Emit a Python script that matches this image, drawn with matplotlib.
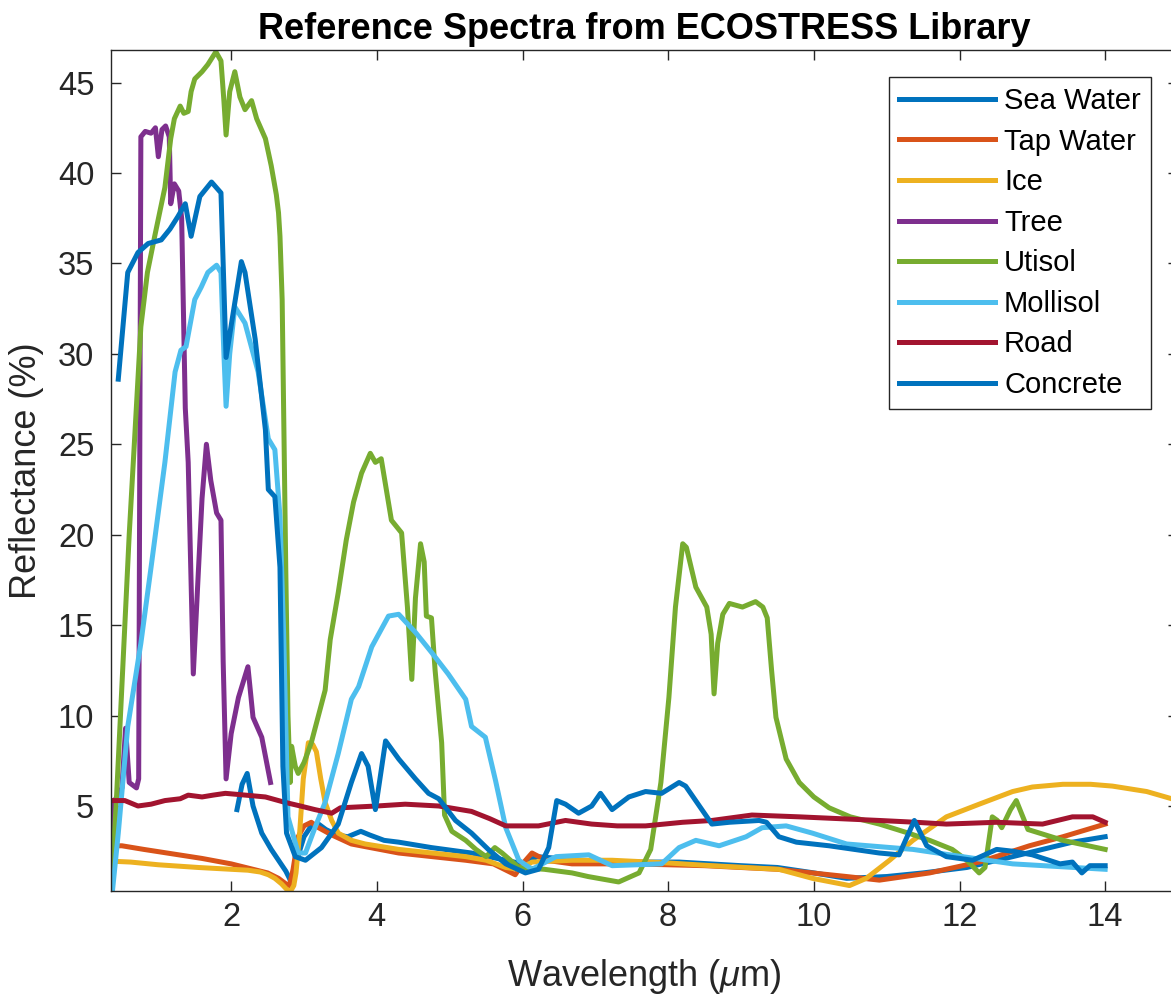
import matplotlib
matplotlib.use("Agg")
import matplotlib.pyplot as plt

plt.rcParams['font.family'] = ['Liberation Sans', 'DejaVu Sans']
plt.rcParams['mathtext.fontset'] = 'custom'
plt.rcParams['mathtext.rm'] = 'Liberation Sans'
plt.rcParams['mathtext.it'] = 'Liberation Sans:italic'

# spectra, wavelength in um, reflectance in %
sea_wl = [2.08, 2.15, 2.22, 2.3, 2.42, 2.55, 2.65, 2.75, 2.8, 2.83, 2.9, 3.0, 3.1, 3.2, 3.3, 3.45,
          3.6, 3.78, 3.9, 4.1, 4.3, 4.75, 5.3, 5.77, 6.0, 6.2, 6.8, 7.5, 8.15, 9.0, 9.5, 10.0,
          10.45, 11.0, 11.5, 12.1, 12.73, 13.55, 14.0]
sea_refl = [4.8, 6.2, 6.8, 5.0, 3.5, 2.6, 2.0, 1.4, 1.0, 0.7, 2.0, 3.3, 3.9, 4.0, 3.7, 3.4,
            3.3, 3.6, 3.4, 3.1, 3.0, 2.7, 2.4, 2.0, 1.8, 2.2, 2.0, 1.9, 1.9, 1.7, 1.6, 1.3,
            1.0, 1.1, 1.3, 1.6, 2.2, 3.0, 3.3]

tap_wl = [0.4, 0.5, 0.8, 1.2, 1.6, 2.0, 2.3, 2.5, 2.65, 2.75, 2.8, 2.85, 2.92, 3.0, 3.1, 3.2,
          3.38, 3.65, 4.3, 5.22, 5.6, 5.9, 6.0, 6.13, 6.32, 6.68, 7.5, 8.5, 9.5, 10.45, 10.9,
          11.59, 12.27, 12.96, 13.42, 14.0]
tap_refl = [2.8, 2.8, 2.6, 2.35, 2.1, 1.8, 1.5, 1.3, 1.0, 0.7, 0.6, 1.5, 3.3, 3.9, 4.1, 3.8,
            3.4, 2.9, 2.4, 2.0, 1.8, 1.2, 1.8, 2.4, 2.0, 1.8, 1.8, 1.7, 1.5, 1.1, 0.9,
            1.3, 1.9, 2.8, 3.3, 4.0]

ice_wl = [0.35, 0.62, 1.0, 1.55, 2.0, 2.23, 2.4, 2.51, 2.6, 2.69, 2.76, 2.81, 2.86, 2.89, 2.94,
          2.99, 3.06, 3.12, 3.17, 3.23, 3.29, 3.38, 3.47, 3.65, 3.84, 4.3, 5.22, 5.5, 5.77, 5.95,
          6.13, 6.68, 7.23, 8.0, 8.6, 9.52, 9.98, 10.49, 10.72, 11.04, 11.36, 11.82, 12.27, 12.73,
          13.0, 13.42, 13.8, 14.1, 14.57, 15.0]
ice_refl = [1.95, 1.9, 1.75, 1.6, 1.5, 1.45, 1.35, 1.2, 1.0, 0.7, 0.4, 0.25, 0.6, 1.3, 3.5,
            6.5, 8.5, 8.4, 8.0, 6.5, 5.2, 4.2, 3.5, 3.1, 2.9, 2.6, 2.2, 2.0, 1.6, 1.5,
            1.9, 2.0, 2.0, 1.85, 1.7, 1.5, 1.0, 0.6, 1.0, 2.0, 3.1, 4.4, 5.1, 5.8,
            6.05, 6.2, 6.2, 6.1, 5.8, 5.3]

tree_wl = [0.35, 0.4, 0.5, 0.55, 0.6, 0.7, 0.73, 0.76, 0.82, 0.9, 0.96, 1.0, 1.05, 1.1, 1.15,
           1.17, 1.22, 1.28, 1.32, 1.37, 1.41, 1.48, 1.55, 1.6, 1.66, 1.72, 1.8, 1.86, 1.89, 1.93,
           2.0, 2.1, 2.23, 2.3, 2.42, 2.54]
tree_refl = [3.7, 5.3, 6.0, 9.3, 6.3, 6.0, 6.5, 42.0, 42.3, 42.2, 42.5, 40.9, 42.4, 42.6, 42.0,
             38.3, 39.4, 39.0, 37.5, 27.0, 24.0, 12.3, 18.0, 22.0, 25.0, 23.0, 21.2, 20.8, 13.0, 6.5,
             9.0, 11.0, 12.7, 9.9, 8.8, 6.3]

utisol_wl = [0.35, 0.42, 0.48, 0.54, 0.6, 0.67, 0.76, 0.85, 0.95, 1.09, 1.17, 1.22, 1.3, 1.35,
             1.41, 1.45, 1.5, 1.6, 1.68, 1.79, 1.86, 1.9, 1.93, 1.98, 2.05, 2.12, 2.19, 2.28, 2.35,
             2.47, 2.55, 2.62, 2.65, 2.67, 2.7, 2.72, 2.75, 2.78, 2.81, 2.83, 2.88, 2.92, 3.0, 3.1,
             3.29, 3.36, 3.47, 3.58, 3.68, 3.79, 3.91, 3.98, 4.06, 4.2, 4.34, 4.42, 4.48, 4.53, 4.6,
             4.65, 4.68, 4.75, 4.8, 4.89, 4.93, 5.03, 5.22, 5.36, 5.5, 5.62, 5.72, 5.95, 6.3, 6.68,
             6.9, 7.32, 7.6, 7.76, 7.9, 8.01, 8.1, 8.2, 8.25, 8.38, 8.53, 8.59, 8.63, 8.68, 8.75,
             8.84, 9.02, 9.2, 9.3, 9.36, 9.42, 9.48, 9.62, 9.8, 10.0, 10.21, 10.5, 10.9, 11.3, 11.59,
             11.9, 12.1, 12.27, 12.35, 12.45, 12.52, 12.58, 12.7, 12.78, 12.86, 12.94, 13.42, 14.0]
utisol_refl = [0.4, 5.0, 10.0, 15.0, 20.0, 25.0, 31.5, 34.5, 36.5, 39.2, 41.9, 43.0, 43.7, 43.3,
               43.4, 44.5, 45.2, 45.6, 46.0, 46.7, 46.2, 44.0, 42.1, 44.5, 45.6, 44.2, 43.5, 44.0, 43.0,
               41.9, 40.4, 38.8, 37.8, 36.5, 33.0, 27.0, 18.0, 10.0, 6.3, 8.3, 7.2, 6.8, 7.4, 8.5,
               11.4, 14.2, 16.8, 19.7, 21.8, 23.4, 24.5, 24.0, 24.2, 20.8, 20.1, 16.0, 12.0, 16.5, 19.5,
               18.5, 15.5, 15.4, 12.5, 8.5, 4.5, 3.6, 3.1, 2.6, 2.2, 2.7, 2.4, 1.6, 1.5, 1.3,
               1.1, 0.8, 1.3, 2.6, 6.3, 11.0, 16.0, 19.5, 19.3, 17.1, 16.0, 14.5, 11.2, 14.0, 15.6,
               16.2, 16.0, 16.3, 16.0, 15.4, 12.5, 9.9, 7.6, 6.3, 5.5, 4.9, 4.4, 4.0, 3.5, 3.1,
               2.6, 2.0, 1.3, 1.6, 4.4, 4.2, 3.8, 4.8, 5.3, 4.5, 3.7, 3.1, 2.6]

mollisol_wl = [0.37, 0.45, 0.58, 0.76, 0.9, 1.09, 1.23, 1.31, 1.38, 1.5, 1.59, 1.68, 1.8, 1.86,
               1.9, 1.93, 1.98, 2.05, 2.19, 2.37, 2.51, 2.6, 2.67, 2.72, 2.78, 2.92, 3.02, 3.15, 3.29,
               3.47, 3.65, 3.75, 3.93, 4.16, 4.3, 4.53, 4.75, 4.98, 5.22, 5.3, 5.49, 5.63, 5.77, 5.95,
               6.13, 6.46, 6.91, 7.23, 7.91, 8.15, 8.38, 8.7, 9.07, 9.29, 9.62, 9.98, 10.45, 11.36,
               12.04, 12.73, 14.0]
mollisol_refl = [0.3, 3.5, 9.4, 14.0, 18.2, 24.0, 29.0, 30.2, 30.4, 33.0, 33.7, 34.5, 34.9, 34.5,
                 30.0, 27.1, 30.0, 32.6, 31.7, 29.0, 25.3, 24.7, 21.0, 14.6, 4.4, 2.4, 2.4, 3.8, 5.2,
                 7.9, 10.9, 11.6, 13.8, 15.5, 15.6, 14.6, 13.5, 12.3, 10.9, 9.4, 8.8, 6.4, 3.8, 2.0,
                 1.5, 2.2, 2.3, 1.7, 1.8, 2.7, 3.1, 2.8, 3.3, 3.8, 3.9, 3.5, 2.9, 2.6,
                 2.2, 1.8, 1.5]

road_wl = [0.35, 0.45, 0.54, 0.72, 0.9, 1.09, 1.3, 1.41, 1.6, 1.75, 1.92, 2.2, 2.47, 2.74, 2.95,
           3.15, 3.38, 3.5, 4.0, 4.39, 4.85, 5.3, 5.55, 5.77, 6.22, 6.59, 6.95, 7.3, 7.69, 8.2,
           8.6, 9.15, 9.8, 10.35, 10.9, 11.4, 11.82, 12.51, 13.14, 13.55, 13.83, 14.0]
road_refl = [5.3, 5.3, 5.3, 5.0, 5.1, 5.3, 5.4, 5.6, 5.5, 5.6, 5.7, 5.6, 5.5, 5.2, 5.0,
             4.8, 4.6, 4.9, 5.0, 5.1, 5.0, 4.7, 4.3, 3.9, 3.9, 4.2, 4.0, 3.9, 3.9, 4.1,
             4.2, 4.5, 4.4, 4.3, 4.2, 4.1, 4.0, 4.1, 4.0, 4.4, 4.4, 4.1]

concrete_wl = [0.45, 0.58, 0.72, 0.86, 1.04, 1.16, 1.27, 1.37, 1.45, 1.57, 1.73, 1.86, 1.93, 2.14,
               2.19, 2.33, 2.47, 2.51, 2.6, 2.67, 2.71, 2.76, 2.88, 3.02, 3.24, 3.47, 3.65, 3.79,
               3.88, 3.98, 4.12, 4.3, 4.53, 4.71, 4.85, 5.08, 5.3, 5.53, 5.77, 6.04, 6.22, 6.36,
               6.47, 6.59, 6.77, 6.95, 7.07, 7.23, 7.46, 7.69, 7.91, 8.15, 8.24, 8.6, 8.84, 9.25,
               9.35, 9.52, 9.76, 10.21, 10.9, 11.17, 11.38, 11.55, 11.82, 12.18, 12.51, 12.73, 13.0,
               13.38, 13.55, 13.68, 13.79, 14.0]
concrete_refl = [28.6, 34.5, 35.6, 36.1, 36.3, 36.9, 37.6, 38.3, 36.5, 38.7, 39.5, 38.9, 29.8, 35.1,
                 34.5, 30.8, 25.8, 22.5, 22.1, 18.2, 7.2, 3.5, 2.2, 2.0, 2.7, 4.0, 6.3, 7.9,
                 7.2, 4.8, 8.6, 7.6, 6.5, 5.7, 5.4, 4.2, 3.5, 2.6, 1.8, 1.3, 1.5, 2.7,
                 5.3, 5.1, 4.6, 5.0, 5.7, 4.8, 5.5, 5.8, 5.7, 6.3, 6.1, 4.0, 4.1, 4.2,
                 4.1, 3.3, 3.0, 2.8, 2.4, 2.3, 4.2, 2.8, 2.2, 2.0, 2.6, 2.5, 2.3,
                 1.8, 1.9, 1.3, 1.7, 1.7]

names = ['Sea Water', 'Tap Water', 'Ice', 'Tree', 'Utisol', 'Mollisol', 'Road', 'Concrete']
colors = ['#0072BD', '#D95319', '#EDB120', '#7E2F8E', '#77AC30', '#4DBEEE', '#A2142F', '#0072BD']
wavelengths = [sea_wl, tap_wl, ice_wl, tree_wl, utisol_wl, mollisol_wl, road_wl, concrete_wl]
reflectances = [sea_refl, tap_refl, ice_refl, tree_refl, utisol_refl, mollisol_refl, road_refl,
                concrete_refl]

fig = plt.figure(figsize=(11.71, 9.94), dpi=100)
ax = fig.add_axes([111 / 1171, 103 / 994, 1067 / 1171, 841 / 994])

for wl, refl, name, col in zip(wavelengths, reflectances, names, colors):
    ax.plot(wl, refl, color=col, linewidth=3.6, label=name, solid_joinstyle='round')

ax.set_xlim(0.35, 15)
ax.set_ylim(0.3, 46.8)
ax.set_xticks([2, 4, 6, 8, 10, 12, 14])
ax.set_yticks([5, 10, 15, 20, 25, 30, 35, 40, 45])

tc = '#262626'
ax.tick_params(direction='in', length=7, width=1.0, top=True, right=True,
               labelsize=23.5, colors=tc)
ax.tick_params(axis='x', pad=8)
ax.tick_params(axis='y', pad=12)
for sp in ax.spines.values():
    sp.set_color(tc)
    sp.set_linewidth(1.0)

ax.set_xlabel(r'Wavelength ($\mu$m)', fontsize=26, color=tc, labelpad=17)
ax.set_ylabel('Reflectance (%)', fontsize=26, color=tc, labelpad=10)
ax.set_title('Reference Spectra from ECOSTRESS Library', fontsize=26, fontweight='bold',
             color='black', pad=8)

leg = ax.legend(loc='upper right', bbox_to_anchor=(0.9747, 0.968), fontsize=21,
                frameon=True, fancybox=False, framealpha=1, edgecolor='#262626',
                handlelength=3.3, handletextpad=0.3, labelspacing=0.43,
                borderpad=0.35, borderaxespad=0)
leg.get_frame().set_linewidth(1.0)

fig.savefig('out.png', dpi=100)
